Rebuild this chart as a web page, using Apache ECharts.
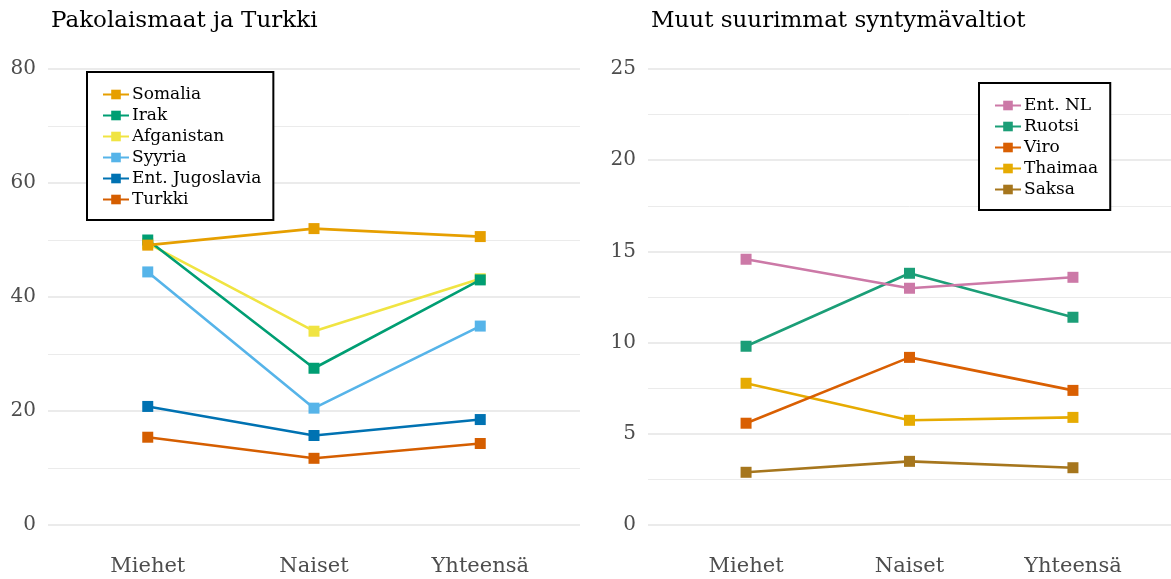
<!DOCTYPE html>
<html>
<head>
<meta charset="utf-8">
<script src="https://cdn.jsdelivr.net/npm/echarts@6/dist/echarts.min.js"></script>
<style>
  html, body { margin: 0; padding: 0; background: #fff; }
  #chart { width: 1171px; height: 579px; }
</style>
</head>
<body>
<div id="chart"></div>
<script>
// categories
var categories = ["Miehet", "Naiset", "Yhteensä"];

// left panel: Pakolaismaat ja Turkki
var leftNames = ["Somalia", "Irak", "Afganistan", "Syyria", "Ent. Jugoslavia", "Turkki"];
var leftColors = ["#E69F00", "#009E73", "#F0E442", "#56B4E9", "#0072B2", "#D55E00"];
var somalia = [49.1, 52.0, 50.6];
var irak = [50.0, 27.5, 43.0];
var afganistan = [49.4, 34.0, 43.2];
var syyria = [44.4, 20.5, 34.9];
var jugoslavia = [20.8, 15.7, 18.5];
var turkki = [15.4, 11.7, 14.3];
var leftValues = [somalia, irak, afganistan, syyria, jugoslavia, turkki];

// right panel: Muut suurimmat syntymävaltiot
var rightNames = ["Ent. NL", "Ruotsi", "Viro", "Thaimaa", "Saksa"];
var rightColors = ["#CC79A7", "#1B9E77", "#D95F02", "#E6AB02", "#A6761D"];
var entNL = [14.57, 12.98, 13.58];
var ruotsi = [9.80, 13.80, 11.39];
var viro = [5.58, 9.19, 7.38];
var thaimaa = [7.77, 5.74, 5.90];
var saksa = [2.89, 3.49, 3.14];
var rightValues = [entNL, ruotsi, viro, thaimaa, saksa];

var leftTicks = [0, 20, 40, 60, 80];
var rightTicks = [0, 5, 10, 15, 20, 25];

var FONT = "DejaVu Serif";

function makeSeries(names, colors, values, idx) {
  return names.map(function (n, i) {
    return {
      name: n,
      type: "line",
      xAxisIndex: idx,
      yAxisIndex: idx,
      z: 20 - i, // first series on top, like the original
      symbol: "rect",
      symbolSize: 11,
      color: colors[i],
      lineStyle: { width: 2.6, color: colors[i] },
      itemStyle: { color: colors[i] },
      emphasis: { disabled: true },
      data: values[i].map(function (v, j) { return [j, v]; })
    };
  });
}

function xAxis(idx) {
  return {
    type: "value",
    gridIndex: idx,
    min: -0.6,
    max: 2.6,
    axisLine: { show: false },
    axisTick: { show: false },
    splitLine: { show: false },
    axisLabel: {
      customValues: [0, 1, 2],
      formatter: function (v) { return categories[Math.round(v)]; },
      color: "#4d4d4d",
      fontFamily: FONT,
      fontSize: 21,
      margin: 31
    }
  };
}

function yAxis(idx, ticks) {
  return {
    type: "value",
    gridIndex: idx,
    min: ticks[0],
    max: ticks[ticks.length - 1],
    interval: ticks[1] - ticks[0],
    axisLine: { show: false },
    axisTick: { show: false },
    axisLabel: {
      color: "#4d4d4d",
      fontFamily: FONT,
      fontSize: 20,
      margin: 12
    },
    splitLine: { lineStyle: { color: "#ebebeb", width: 2 } },
    minorTick: { show: false, splitNumber: 2 },
    minorSplitLine: { show: true, lineStyle: { color: "#ebebeb", width: 1 } }
  };
}

function legend(names, left, top) {
  return {
    data: names,
    orient: "vertical",
    left: left,
    top: top,
    backgroundColor: "#fff",
    borderColor: "#000",
    borderWidth: 2,
    borderRadius: 0,
    padding: [14, 12, 12, 15],
    itemWidth: 26,
    itemHeight: 12,
    itemGap: 4,
    selectedMode: false,
    textStyle: { fontFamily: FONT, fontSize: 17, lineHeight: 16, color: "#000", padding: [0, 0, 0, -2] }
  };
}

var chart = echarts.init(document.getElementById("chart"));
chart.setOption({
  animation: false,
  backgroundColor: "#fff",
  title: [
    { text: "Pakolaismaat ja Turkki", left: 46, top: 5,
      textStyle: { fontFamily: FONT, fontSize: 23, fontWeight: "normal", color: "#000" } },
    { text: "Muut suurimmat syntymävaltiot", left: 646, top: 5,
      textStyle: { fontFamily: FONT, fontSize: 23, fontWeight: "normal", color: "#000" } }
  ],
  grid: [
    { left: 48, width: 532, top: 69, bottom: 54 },
    { left: 648, width: 533, top: 69, bottom: 54 }
  ],
  xAxis: [xAxis(0), xAxis(1)],
  yAxis: [yAxis(0, leftTicks), yAxis(1, rightTicks)],
  legend: [legend(leftNames, 87, 72), legend(rightNames, 979, 83)],
  series: makeSeries(leftNames, leftColors, leftValues, 0)
    .concat(makeSeries(rightNames, rightColors, rightValues, 1))
});
</script>
</body>
</html>
